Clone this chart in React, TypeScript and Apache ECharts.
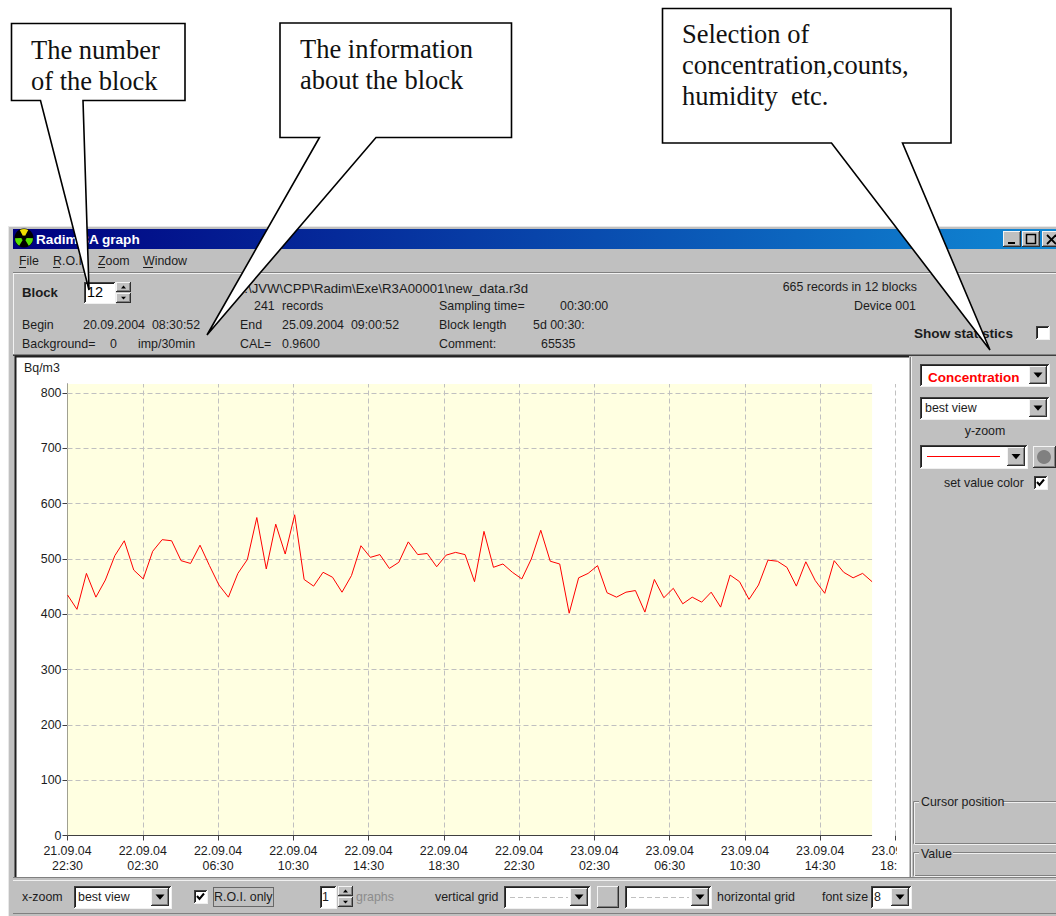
import React, { useEffect, useRef } from "react";
import * as echarts from "echarts";

// Concentration readings in Bq/m3, one per record
const concentration = [
  435, 409, 474, 431, 462, 506, 533, 480, 464, 514, 535, 533, 497, 492, 525, 488, 453, 431, 474, 499, 575, 482, 563, 509, 580, 463, 451, 476, 467,
  440, 470, 524, 503, 508, 483, 494, 531, 508, 510, 486, 507, 512, 508, 459, 550, 485, 491, 476, 464, 500, 552, 496, 491, 402, 466, 474, 488,
  439, 431, 440, 443, 404, 463, 430, 447, 419, 431, 422, 440, 413, 471, 459, 427, 453, 498, 496, 485, 451, 495, 461, 438, 497, 476, 466, 474, 459,
];
const xTickLabels = [
  "21.09.04\n22:30", "22.09.04\n02:30", "22.09.04\n06:30", "22.09.04\n10:30", "22.09.04\n14:30", "22.09.04\n18:30",
  "22.09.04\n22:30", "23.09.04\n02:30", "23.09.04\n06:30", "23.09.04\n10:30", "23.09.04\n14:30", "23.09.04\n18:30",
];
const yTicks = [0, 100, 200, 300, 400, 500, 600, 700, 800];
const xGridHours = [4, 8, 12, 16, 20, 24, 28, 32, 36, 40, 44];
const yGridValues = [100, 200, 300, 400, 500, 600, 700, 800];

const HOURS_PER_RECORD = 0.503;
const Y_TOP = 816.5;
const X_END = (concentration.length - 1) * HOURS_PER_RECORD;

const UI = "Liberation Sans";
const GRAY = "#c0c0c0";
const INK = "#1c1c1c";
const Z = -10;

function txt(x: number, y: number, text: string, o: any = {}) {
  return {
    type: "text", x, y, z: o.z ?? Z + 5, silent: true,
    style: {
      text,
      fill: o.fill ?? INK,
      font: `${o.bold ? "bold " : ""}${o.size ?? 12.4}px "${o.family ?? UI}"`,
      textAlign: o.align ?? "left",
      textVerticalAlign: "middle",
    },
  };
}
function rect(x: number, y: number, w: number, h: number, fill: any, z = Z) {
  return { type: "rect", z, silent: true, shape: { x, y, width: w, height: h }, style: { fill } };
}
function ln(x1: number, y1: number, x2: number, y2: number, stroke: string, o: any = {}) {
  return {
    type: "line", z: o.z ?? Z + 2, silent: true, shape: { x1, y1, x2, y2 },
    style: { stroke, lineWidth: o.w ?? 1, lineDash: o.dash },
  };
}
function sunken(x: number, y: number, w: number, h: number, fill = "#ffffff") {
  return [
    rect(x, y, w, h, fill, Z + 1),
    ln(x, y + 0.5, x + w, y + 0.5, "#404040"),
    ln(x + 0.5, y, x + 0.5, y + h, "#404040"),
    ln(x + 1.5, y + 1.5, x + w - 1, y + 1.5, "#202020"),
    ln(x + 1.5, y + 1, x + 1.5, y + h - 1, "#202020"),
    ln(x, y + h + 0.5, x + w + 1, y + h + 0.5, "#f0f0f0"),
    ln(x + w + 0.5, y, x + w + 0.5, y + h, "#f0f0f0"),
  ];
}
function raised(x: number, y: number, w: number, h: number) {
  return [
    rect(x, y, w, h, GRAY, Z + 2),
    ln(x, y + 0.5, x + w, y + 0.5, "#f4f4f4", { z: Z + 3 }),
    ln(x + 0.5, y, x + 0.5, y + h, "#f4f4f4", { z: Z + 3 }),
    ln(x, y + h - 0.5, x + w, y + h - 0.5, "#303030", { z: Z + 3 }),
    ln(x + w - 0.5, y, x + w - 0.5, y + h, "#303030", { z: Z + 3 }),
    ln(x + 1, y + h - 1.5, x + w - 1, y + h - 1.5, "#808080", { z: Z + 3 }),
    ln(x + w - 1.5, y + 1, x + w - 1.5, y + h - 1, "#808080", { z: Z + 3 }),
  ];
}
function tri(cx: number, cy: number, r: number, up = false) {
  const d = up ? -1 : 1;
  return {
    type: "polygon", z: Z + 4, silent: true,
    shape: { points: [[cx - r, cy - d * r * 0.55], [cx + r, cy - d * r * 0.55], [cx, cy + d * r * 0.6]] },
    style: { fill: "#000" },
  };
}
function combo(x: number, y: number, w: number, h: number, btnW = 18) {
  return [...sunken(x, y, w, h), ...raised(x + w - btnW - 2, y + 2, btnW, h - 4), tri(x + w - 2 - btnW / 2, y + h / 2, 4.5)];
}
function check(x: number, y: number, on: boolean) {
  const s: any[] = sunken(x, y, 13, 13);
  if (on) {
    s.push({
      type: "polyline", z: Z + 4, silent: true,
      shape: { points: [[x + 3, y + 6], [x + 5.5, y + 9], [x + 10, y + 3.5]] },
      style: { stroke: "#000", lineWidth: 2, fill: "none" },
    });
  }
  return s;
}
function spin(x: number, y: number) {
  return [...raised(x, y, 15, 10), tri(x + 7.5, y + 5, 2.5, true), ...raised(x, y + 11, 15, 10), tri(x + 7.5, y + 16, 2.5)];
}
function groupBox(x: number, y: number, w: number, h: number, z: number) {
  const box = (dx: number, stroke: string) => ({
    type: "rect", z, silent: true,
    shape: { x: x + dx, y: y + dx, width: w, height: h },
    style: { fill: "none", stroke },
  });
  return [box(0, "#808080"), box(1, "#f0f0f0")];
}
function callout(points: number[][]) {
  return {
    type: "polygon", z: 200, silent: true, shape: { points },
    style: { fill: "#fff", stroke: "#000", lineWidth: 1.6, lineJoin: "miter" },
  };
}
const serif = { family: "Liberation Serif", size: 26.5, z: 201, fill: "#111" };
const deg = Math.PI / 180;

function chrome() {
  const g: any[] = [];
  // window
  g.push(rect(8, 226, 1048, 690, GRAY, Z - 2));
  g.push(ln(8, 226.5, 1056, 226.5, "#e8e8e8"), ln(8.5, 226, 8.5, 916, "#e8e8e8"));
  g.push(rect(13, 229, 1043, 20, {
    type: "linear", x: 0, y: 0, x2: 1, y2: 0,
    colorStops: [{ offset: 0, color: "#000080" }, { offset: 1, color: "#1088d4" }],
  }, Z));
  // icon
  g.push({ type: "circle", z: Z + 1, silent: true, shape: { cx: 24, cy: 238, r: 9.5 }, style: { fill: "#000" } });
  [[-118, -62, "#f0e000"], [2, 58, "#58e000"], [122, 178, "#58e000"]].forEach(([a, b, fill]: any) =>
    g.push({
      type: "sector", z: Z + 2, silent: true,
      shape: { cx: 24, cy: 238, r0: 2.5, r: 9, startAngle: a * deg, endAngle: b * deg },
      style: { fill },
    }));
  g.push(txt(36, 239, "Radim 3A graph", { bold: true, fill: "#fff", size: 13.6 }));
  // window buttons
  g.push(...raised(1003, 231, 18, 16), ...raised(1022, 231, 18, 16), ...raised(1042, 231, 16, 16));
  g.push(rect(1008, 242, 7, 2, "#000", Z + 5));
  g.push({ type: "rect", z: Z + 5, silent: true, shape: { x: 1026.5, y: 234.5, width: 9, height: 9 }, style: { fill: "none", stroke: "#000", lineWidth: 1.5 } });
  g.push(ln(1047, 235, 1056, 244, "#000", { w: 1.8, z: Z + 5 }), ln(1056, 235, 1047, 244, "#000", { w: 1.8, z: Z + 5 }));
  // menu
  [[19, "File"], [53, "R.O.I."], [98, "Zoom"], [143, "Window"]].forEach(([x, s]: any) => {
    g.push(txt(x, 261, s));
    g.push(ln(x, 267.5, x + (s === "Window" ? 10 : 7), 267.5, INK));
  });
  g.push(ln(13, 273.5, 1056, 273.5, "#f2f2f2"), ln(13, 272.5, 1056, 272.5, "#808080"));
  g.push(ln(13.5, 273, 13.5, 355, "#f2f2f2"));
  // info panel
  g.push(txt(22, 292, "Block", { bold: true, size: 13.2 }));
  g.push(...sunken(84, 282, 31, 21), txt(87, 292, "12", { size: 14.5, fill: "#000" }));
  g.push(...spin(116, 282));
  g.push(txt(22, 325, "Begin"), txt(83, 325, "20.09.2004  08:30:52"));
  g.push(txt(22, 344, "Background="), txt(110, 344, "0"), txt(138, 344, "imp/30min"));
  g.push(txt(528, 288, "C:\\JVW\\CPP\\Radim\\Exe\\R3A00001\\new_data.r3d", { align: "right", size: 13.2 }));
  g.push(txt(254, 306, "241"), txt(282, 306, "records"));
  g.push(txt(240, 325, "End"), txt(282, 325, "25.09.2004  09:00:52"));
  g.push(txt(240, 344, "CAL="), txt(282, 344, "0.9600"));
  g.push(txt(439, 306, "Sampling time="), txt(560, 306, "00:30:00"));
  g.push(txt(439, 325, "Block length"), txt(533, 325, "5d 00:30:"));
  g.push(txt(439, 344, "Comment:"), txt(541, 344, "65535"));
  g.push(txt(917, 287, "665 records in 12 blocks", { align: "right" }), txt(916, 306, "Device 001", { align: "right" }));
  g.push(txt(914, 333, "Show statistics", { bold: true, size: 13.6 }));
  g.push(...check(1036, 326, false));
  // chart panel
  g.push(ln(13, 355.5, 1056, 355.5, "#404040"), ln(13, 354.5, 1056, 354.5, "#808080"));
  g.push(rect(15, 357, 894, 520, "#fff", Z + 1));
  g.push(ln(15.5, 356, 15.5, 877, "#202020", { w: 2 }), ln(15, 356.5, 909, 356.5, "#202020", { w: 2 }));
  g.push(txt(24, 368, "Bq/m3"));
  // right panel
  g.push(ln(911.5, 357, 911.5, 877, "#f2f2f2", { z: 51 }), ln(910.5, 357, 910.5, 877, "#808080", { z: 51 }));
  g.push(...combo(920, 364, 129, 22), txt(928, 377, "Concentration", { bold: true, fill: "#ff0000", size: 13.5 }));
  g.push(...combo(920, 397, 129, 22), txt(925, 408, "best view"));
  g.push(txt(985, 431, "y-zoom", { align: "center" }));
  g.push(...combo(920, 445, 107, 23), ln(927, 456.5, 1000, 456.5, "#ff0000"));
  g.push(...raised(1033, 446, 23, 22));
  g.push({ type: "circle", z: Z + 5, silent: true, shape: { cx: 1044, cy: 457, r: 7 }, style: { fill: "#808080" } });
  g.push(txt(944, 483, "set value color"), ...check(1034, 476, true));
  // the last tick label is cut off by the edge of the plot panel
  g.push(rect(897, 840, 12, 37, "#fff", 50), rect(909, 840, 11, 37, GRAY, 50));
  // group boxes
  g.push(...groupBox(913.5, 801.5, 150, 42, 51));
  g.push(rect(919, 796, 84, 12, GRAY, 52), txt(921, 802, "Cursor position", { z: 53 }));
  g.push(...groupBox(913.5, 852.5, 150, 23, 51));
  g.push(rect(919, 848, 34, 12, GRAY, 52), txt(921, 854, "Value", { z: 53 }));
  // bottom bar
  g.push(ln(13, 877.5, 1056, 877.5, "#808080", { z: 51 }), ln(13, 880.5, 1056, 880.5, "#f0f0f0"), ln(13, 913.5, 1056, 913.5, "#808080"));
  g.push(txt(22, 897, "x-zoom"));
  g.push(...combo(74, 886, 97, 22), txt(78, 897, "best view"));
  g.push(...check(194, 890, true), txt(214, 897, "R.O.I. only"));
  g.push({ type: "rect", z: Z + 4, silent: true, shape: { x: 213.5, y: 887.5, width: 60, height: 19 }, style: { fill: "none", stroke: "#111", lineDash: [1, 1] } });
  g.push(...sunken(320, 886, 16, 22), txt(322, 897, "1"), ...spin(338, 886));
  g.push(txt(356, 897, "graphs", { fill: "#8c8c8c" }));
  g.push(txt(435, 897, "vertical grid"));
  g.push(...combo(504, 886, 86, 22), ln(510, 897.5, 568, 897.5, "#c0c0c0", { dash: [5, 3], z: Z + 4 }));
  g.push(...raised(597, 886, 22, 22));
  g.push(...combo(625, 886, 86, 22), ln(631, 897.5, 689, 897.5, "#c0c0c0", { dash: [5, 3], z: Z + 4 }));
  g.push(txt(717, 897, "horizontal grid"), txt(822, 897, "font size"));
  g.push(...combo(871, 886, 40, 22), txt(874, 897, "8"));
  // callouts
  g.push(callout([[11.5, 23.5], [185, 23.5], [185, 100.5], [83, 100.5], [89, 290], [40.5, 100.5], [11.5, 100.5]]));
  g.push(txt(31, 50, "The number", serif), txt(31, 81, "of the block", serif));
  g.push(callout([[280, 23], [511.5, 23], [511.5, 137.5], [376, 137.5], [207, 335], [319.5, 137.5], [280, 137.5]]));
  g.push(txt(300, 49, "The information", serif), txt(300, 80, "about the block", serif));
  g.push(callout([[662.5, 8.5], [951, 8.5], [951, 143], [902.5, 143], [990, 350], [831.5, 143], [662.5, 143]]));
  g.push(txt(682, 34, "Selection of", serif), txt(682, 65, "concentration,counts,", serif), txt(682, 96, "humidity  etc.", serif));
  return g;
}

export default function App() {
  const ref = useRef<HTMLDivElement>(null);
  useEffect(() => {
    const chart = echarts.init(ref.current!, undefined, { renderer: "svg" });
    const dashed = { color: "#c0c0c0", width: 1, type: [5, 3] as any };
    chart.setOption({
      animation: false,
      backgroundColor: "#ffffff",
      graphic: chrome(),
      grid: { left: 67.5, top: 384, width: 828, height: 451.5 },
      xAxis: {
        type: "value", min: 0, max: 44, interval: 4,
        axisLine: { show: false },
        axisTick: { show: true, length: 5, lineStyle: { color: "#404040" } },
        splitLine: { show: false },
        axisLabel: {
          show: true, margin: 8, lineHeight: 15, color: INK, fontFamily: UI, fontSize: 12.4,
          showMinLabel: true, showMaxLabel: true, hideOverlap: false,
          formatter: (v: number) => xTickLabels[Math.round(v / 4)] ?? "",
        },
      },
      yAxis: {
        type: "value", min: 0, max: Y_TOP,
        axisLine: { show: true, lineStyle: { color: "#404040", width: 1 } },
        axisTick: { show: true, length: 5, customValues: yTicks, lineStyle: { color: "#404040" } },
        splitLine: { show: false },
        axisLabel: { show: true, margin: 6, color: INK, fontFamily: UI, fontSize: 12.4, customValues: yTicks },
      },
      series: [
        {
          type: "line",
          z: 3,
          data: concentration.map((v, i) => [i * HOURS_PER_RECORD, v]),
          symbol: "none",
          lineStyle: { color: "#ff0000", width: 1 },
          itemStyle: { color: "#ff0000" },
          silent: true,
          clip: false,
          markArea: {
            silent: true, z: 1,
            itemStyle: { color: "#ffffe1", opacity: 1, borderWidth: 0 },
            label: { show: false },
            data: [[{ xAxis: 0, yAxis: 0 }, { xAxis: X_END, yAxis: Y_TOP }]],
          },
          markLine: {
            silent: true, z: 2, symbol: "none", animation: false, precision: 4,
            label: { show: false },
            lineStyle: dashed,
            data: [
              ...yGridValues.map((v) => [{ coord: [0, v] }, { coord: [X_END, v] }]),
              ...xGridHours.map((h) => [{ coord: [h, 0] }, { coord: [h, Y_TOP] }]),
              [
                { coord: [0, 0], lineStyle: { color: "#404040", width: 1, type: "solid" } },
                { coord: [X_END, 0] },
              ],
            ],
          },
        },
      ],
    });
    return () => chart.dispose();
  }, []);
  return (
    <div
      ref={ref}
      style={{ position: "absolute", left: 0, top: 0, width: 1056, height: 916, overflow: "hidden" }}
    />
  );
}
